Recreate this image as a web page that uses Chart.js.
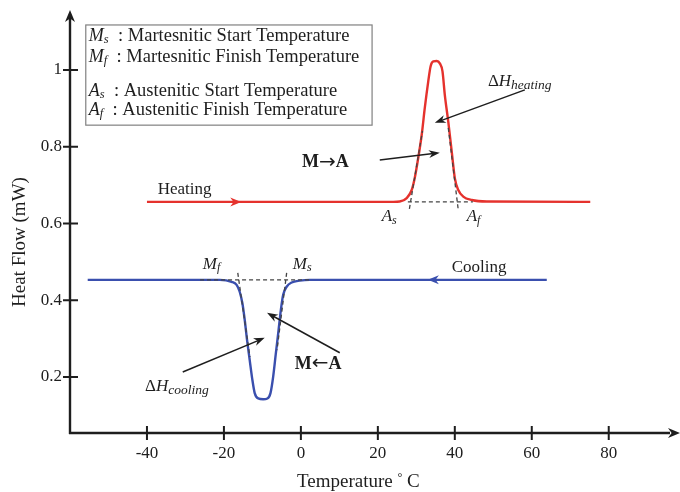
<!DOCTYPE html>
<html>
<head>
<meta charset="utf-8">
<script src="https://cdn.jsdelivr.net/npm/chart.js@4.4.1/dist/chart.umd.min.js"></script>
<style>
  html, body { margin: 0; padding: 0; background: #fff; }
</style>
</head>
<body>
<canvas id="mainChart" width="680" height="492"></canvas>
<script>
// axis ticks
const xTicks = [-40, -20, 0, 20, 40, 60, 80];
const yTicks = [0.2, 0.4, 0.6, 0.8, 1];

// heating run (red)
const heatingTemp = [-40, 24, 25.7, 27.5, 28.8, 29.6, 30.5, 31.4, 32.2, 33.1, 33.7, 34.4, 35.3, 36.1, 36.8, 37.4, 38.3, 39.2, 40.0, 40.9, 42.2, 44.4, 48.3, 75.2];
const heatingFlow = [0.656, 0.656, 0.657, 0.666, 0.687, 0.719, 0.771, 0.831, 0.901, 0.970, 1.009, 1.022, 1.023, 1.017, 0.996, 0.935, 0.865, 0.787, 0.718, 0.687, 0.670, 0.661, 0.657, 0.656];

// cooling run (blue)
const coolingTemp = [-55.4, -21.1, -18.0, -16.7, -15.9, -15.2, -14.6, -14.0, -13.3, -12.6, -12.0, -11.1, -9.8, -8.7, -7.9, -7.2, -6.5, -5.8, -5.2, -4.6, -3.7, -2.4, -0.3, 2.3, 63.9];
const coolingFlow = [0.453, 0.453, 0.448, 0.440, 0.422, 0.392, 0.349, 0.297, 0.244, 0.192, 0.158, 0.144, 0.142, 0.144, 0.158, 0.201, 0.262, 0.322, 0.375, 0.414, 0.435, 0.446, 0.451, 0.453, 0.453];

// dashed construction lines (baseline + tangents)
const heatBaseTemp = [27.8, 44.7];
const heatBaseFlow = [0.656, 0.656];
const heatLeftTemp = [28.2, 31.6];
const heatLeftFlow = [0.638, 0.841];
const heatRightTemp = [38.3, 40.9];
const heatRightFlow = [0.849, 0.635];
const coolBaseTemp = [-26.2, 2.3];
const coolBaseFlow = [0.453, 0.453];
const coolLeftTemp = [-16.4, -13.25];
const coolLeftFlow = [0.471, 0.252];
const coolRightTemp = [-3.7, -6.2];
const coolRightFlow = [0.471, 0.270];

const SERIF = '"Liberation Serif", "DejaVu Serif", serif';
const F_MAIN = `17px ${SERIF}`;
const F_ITAL = `italic 17px ${SERIF}`;
const F_SUB = `italic 12px ${SERIF}`;
const F_SUB2 = `italic 13.5px ${SERIF}`;
const F_BOLD = `bold 18px ${SERIF}`;
const F_ARROW = '20px "DejaVu Sans", sans-serif';
const F_KEY = `18.5px ${SERIF}`;
const F_KEYI = `italic 18px ${SERIF}`;
const F_KEYS = `italic 12.5px ${SERIF}`;
const INK = '#1e1e1e';

function toPoints(xs, ys) {
    return xs.map((v, i) => ({x: v, y: ys[i]}));
}

function dashed(xs, ys) {
    return {
        data: toPoints(xs, ys),
        borderColor: '#444',
        borderWidth: 1.3,
        borderDash: [4, 3],
        order: 0
    };
}

function drawRich(ctx, x, y, runs) {
    let cx = x;
    runs.forEach(r => {
        ctx.font = r.font;
        ctx.fillText(r.t, cx, y + (r.dy || 0));
        cx += ctx.measureText(r.t).width;
    });
}

function arrow(ctx, x1, y1, x2, y2, len, half) {
    const ang = Math.atan2(y2 - y1, x2 - x1);
    ctx.beginPath();
    ctx.moveTo(x1, y1);
    ctx.lineTo(x2 - Math.cos(ang) * len * 0.6, y2 - Math.sin(ang) * len * 0.6);
    ctx.stroke();
    head(ctx, x2, y2, ang, len, half);
}

function head(ctx, x, y, ang, len, half) {
    ctx.beginPath();
    ctx.moveTo(x, y);
    ctx.lineTo(x - Math.cos(ang) * len - Math.sin(ang) * half, y - Math.sin(ang) * len + Math.cos(ang) * half);
    ctx.lineTo(x - Math.cos(ang) * len * 0.7, y - Math.sin(ang) * len * 0.7);
    ctx.lineTo(x - Math.cos(ang) * len + Math.sin(ang) * half, y - Math.sin(ang) * len - Math.cos(ang) * half);
    ctx.closePath();
    ctx.fill();
}

const sketchPlugin = {
    id: 'sketch',
    afterDatasetsDraw(chart) {
        const {ctx, chartArea: a} = chart;
        const xs = chart.scales.x, ys = chart.scales.y;
        const px = v => xs.getPixelForValue(v);
        const py = v => ys.getPixelForValue(v);
        ctx.save();

        // axes with arrow heads
        ctx.strokeStyle = INK;
        ctx.fillStyle = INK;
        ctx.lineWidth = 2.4;
        ctx.beginPath();
        ctx.moveTo(a.left, a.bottom + 1);
        ctx.lineTo(a.left, a.top + 8);
        ctx.moveTo(a.left - 1, a.bottom);
        ctx.lineTo(a.right - 8, a.bottom);
        ctx.stroke();
        head(ctx, a.left, a.top, -Math.PI / 2, 12, 5);
        head(ctx, a.right + 2, a.bottom, 0, 12, 5);

        ctx.lineWidth = 2;
        ctx.beginPath();
        xTicks.forEach(v => { ctx.moveTo(px(v), a.bottom - 7); ctx.lineTo(px(v), a.bottom + 7); });
        yTicks.forEach(v => { ctx.moveTo(a.left - 7, py(v)); ctx.lineTo(a.left + 8, py(v)); });
        ctx.stroke();

        // direction arrows on the curves
        ctx.fillStyle = '#e5322d';
        head(ctx, px(-15.5), py(0.656), 0, 11, 4.5);
        ctx.fillStyle = '#3a4fae';
        head(ctx, px(33.0), py(0.453), Math.PI, 11, 4.5);

        // annotation arrows
        ctx.strokeStyle = INK;
        ctx.fillStyle = INK;
        ctx.lineWidth = 1.5;
        arrow(ctx, px(58.2), py(0.948), px(34.8), py(0.862), 11, 4);
        arrow(ctx, px(20.5), py(0.765), px(36.1), py(0.784), 11, 4);
        arrow(ctx, px(-30.7), py(0.213), px(-9.4), py(0.302), 11, 4);
        arrow(ctx, px(10.1), py(0.263), px(-8.8), py(0.367), 11, 4);

        // texts
        ctx.textBaseline = 'middle';
        ctx.textAlign = 'left';
        ctx.fillStyle = INK;
        drawRich(ctx, px(-37.2), py(0.687), [{t: 'Heating', font: F_MAIN}]);
        drawRich(ctx, px(39.2), py(0.484), [{t: 'Cooling', font: F_MAIN}]);
        drawRich(ctx, px(0.3), py(0.758), [{t: 'M', font: F_BOLD}, {t: '\u2192', font: F_ARROW}, {t: 'A', font: F_BOLD}]);
        drawRich(ctx, px(-1.6), py(0.234), [{t: 'M', font: F_BOLD}, {t: '\u2190', font: F_ARROW}, {t: 'A', font: F_BOLD}]);
        drawRich(ctx, px(21.0), py(0.617), [{t: 'A', font: F_ITAL}, {t: 's', font: F_SUB, dy: 4}]);
        drawRich(ctx, px(43.1), py(0.617), [{t: 'A', font: F_ITAL}, {t: 'f', font: F_SUB, dy: 4}]);
        drawRich(ctx, px(-25.5), py(0.494), [{t: 'M', font: F_ITAL}, {t: 'f', font: F_SUB, dy: 4}]);
        drawRich(ctx, px(-2.1), py(0.494), [{t: 'M', font: F_ITAL}, {t: 's', font: F_SUB, dy: 4}]);
        drawRich(ctx, px(48.6), py(0.969), [{t: '\u0394', font: F_MAIN}, {t: 'H', font: F_ITAL}, {t: 'heating', font: F_SUB2, dy: 4}]);
        drawRich(ctx, px(-40.5), py(0.174), [{t: '\u0394', font: F_MAIN}, {t: 'H', font: F_ITAL}, {t: 'cooling', font: F_SUB2, dy: 4}]);

        // key box
        const bx1 = px(-55.9), bx2 = px(18.5), by1 = py(1.117), by2 = py(0.856);
        ctx.fillStyle = '#fff';
        ctx.fillRect(bx1, by1, bx2 - bx1, by2 - by1);
        ctx.strokeStyle = '#808080';
        ctx.lineWidth = 1.2;
        ctx.strokeRect(bx1, by1, bx2 - bx1, by2 - by1);
        ctx.fillStyle = INK;
        const kx = px(-55.1);
        const sep = '\u2002: ';
        drawRich(ctx, kx, py(1.088), [{t: 'M', font: F_KEYI}, {t: 's', font: F_KEYS, dy: 4}, {t: sep + 'Martesnitic Start Temperature', font: F_KEY}]);
        drawRich(ctx, kx, py(1.033), [{t: 'M', font: F_KEYI}, {t: 'f', font: F_KEYS, dy: 4}, {t: sep + 'Martesnitic Finish Temperature', font: F_KEY}]);
        drawRich(ctx, kx, py(0.945), [{t: 'A', font: F_KEYI}, {t: 's', font: F_KEYS, dy: 4}, {t: sep + 'Austenitic Start Temperature', font: F_KEY}]);
        drawRich(ctx, kx, py(0.895), [{t: 'A', font: F_KEYI}, {t: 'f', font: F_KEYS, dy: 4}, {t: sep + 'Austenitic Finish Temperature', font: F_KEY}]);

        // axis titles
        drawRich(ctx, 297, 482, [{t: 'Temperature ', font: `19px ${SERIF}`}, {t: '\u00b0', font: `12px ${SERIF}`, dy: -4}, {t: ' C', font: `19px ${SERIF}`}]);
        ctx.translate(20, 242);
        ctx.rotate(-Math.PI / 2);
        ctx.textAlign = 'center';
        ctx.font = `19px ${SERIF}`;
        ctx.fillText('Heat Flow (mW)', 0, 0);
        ctx.restore();
    }
};

const ctx = document.getElementById('mainChart').getContext('2d');

const chart = new Chart(ctx, {
    type: 'line',
    data: {
        datasets: [
            dashed(heatBaseTemp, heatBaseFlow),
            dashed(heatLeftTemp, heatLeftFlow),
            dashed(heatRightTemp, heatRightFlow),
            dashed(coolBaseTemp, coolBaseFlow),
            dashed(coolLeftTemp, coolLeftFlow),
            dashed(coolRightTemp, coolRightFlow),
            {
                label: 'Heating',
                data: toPoints(heatingTemp, heatingFlow),
                borderColor: '#e5322d',
                borderWidth: 2.4,
                cubicInterpolationMode: 'monotone',
                order: 1
            },
            {
                label: 'Cooling',
                data: toPoints(coolingTemp, coolingFlow),
                borderColor: '#3a4fae',
                borderWidth: 2.4,
                cubicInterpolationMode: 'monotone',
                order: 1
            }
        ]
    },
    options: {
        responsive: false,
        animation: false,
        layout: { padding: { top: 10, right: 2, left: 0, bottom: 0 } },
        elements: { point: { radius: 0 } },
        plugins: { legend: { display: false }, tooltip: { enabled: false } },
        scales: {
            x: {
                type: 'linear',
                min: -60,
                max: 98,
                afterBuildTicks: s => { s.ticks = xTicks.map(v => ({value: v})); },
                afterFit: s => { s.height = 59; s.paddingLeft = 0; s.paddingRight = 0; },
                grid: { display: false, drawTicks: false },
                border: { display: false },
                ticks: { color: INK, font: { family: SERIF, size: 17 }, padding: 10, callback: v => String(v) }
            },
            y: {
                type: 'linear',
                min: 0.054,
                max: 1.156,
                afterBuildTicks: s => { s.ticks = yTicks.map(v => ({value: v})); },
                afterFit: s => { s.width = 70; s.paddingTop = 0; s.paddingBottom = 0; },
                grid: { display: false, drawTicks: false },
                border: { display: false },
                ticks: { color: INK, font: { family: SERIF, size: 17 }, padding: 8, callback: v => String(v) }
            }
        }
    },
    plugins: [sketchPlugin]
});
</script>
</body>
</html>
